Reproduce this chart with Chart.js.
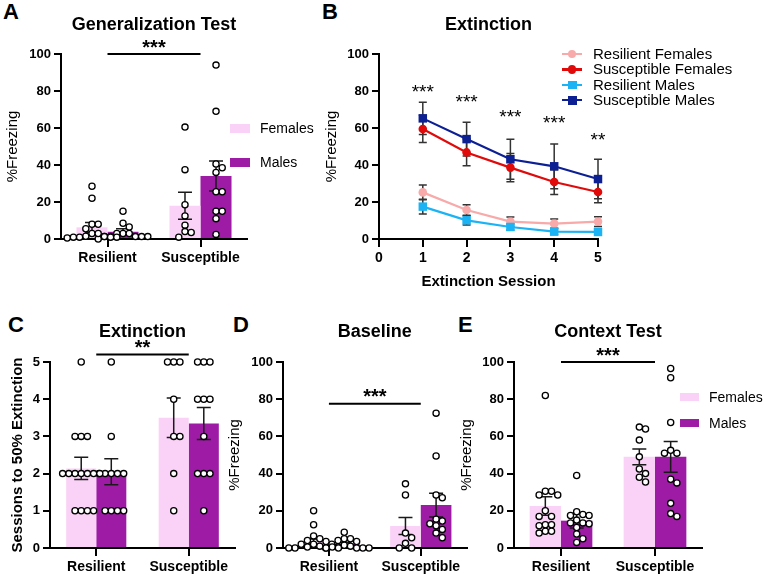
<!DOCTYPE html>
<html>
<head>
<meta charset="utf-8">
<script src="https://cdn.jsdelivr.net/npm/chart.js@4.4.0/dist/chart.umd.min.js"></script>
<style>
  body { margin: 0; background: #fff; }
  #fig { position: relative; width: 764px; height: 575px; overflow: hidden; font-family: 'Liberation Sans', Arial, sans-serif; color: #000; }
  canvas { position: absolute; }
  .letter { position: absolute; font-weight: bold; font-size: 22px; line-height: 22px; }
  .lg { position: absolute; height: 16px; line-height: 16px; white-space: nowrap; }
  .lg span { position: absolute; }
</style>
</head>
<body>
<div id="fig">
  <div class="letter" style="left:3px;top:1px">A</div>
  <div class="letter" style="left:322px;top:1px">B</div>
  <div class="letter" style="left:8px;top:314px">C</div>
  <div class="letter" style="left:233px;top:314px">D</div>
  <div class="letter" style="left:458px;top:314px">E</div>
  <canvas id="chartA" width="320" height="290" style="left:0;top:0"></canvas>
  <canvas id="chartB" width="454" height="300" style="left:310px;top:0"></canvas>
  <canvas id="chartC" width="245" height="275" style="left:0;top:300px"></canvas>
  <canvas id="chartD" width="250" height="275" style="left:222px;top:300px"></canvas>
  <canvas id="chartE" width="314" height="275" style="left:450px;top:300px"></canvas>
</div>
<script>
const groups = ['Resilient', 'Susceptible'];
const sexes = ['Females', 'Males'];

// A: generalization test (% freezing)
const genMeanF = [6.3, 18.0];
const genMeanM = [3.9, 34.0];
const genSemF = [2.6, 7.3];
const genSemM = [1.6, 8.1];
const genResF = [28.5, 22, 8, 8, 5.5, 3, 3, 1.5, 1.3, 1, 1, 1, 1, 0.5];
const genResM = [15, 8.5, 6.5, 3, 3, 3, 1.3, 1.3, 1.3, 1.3, 1.3, 0];
const genSusF = [60.5, 37.5, 18.5, 12.5, 7.5, 4, 3.5, 1];
const genSusM = [94, 69, 40.5, 38.5, 36, 25.5, 25.5, 15, 15, 11, 2.5];

// B: extinction sessions (% freezing)
const sessions = [1, 2, 3, 4, 5];
const extResF = [25.2, 15.7, 9.4, 8.3, 9.4];
const extSusF = [59.5, 46.8, 38.6, 30.8, 25.4];
const extResM = [17.5, 10.1, 6.5, 4.0, 3.8];
const extSusM = [65.2, 54.0, 43.1, 39.3, 32.4];
const extSemResF = [4.0, 2.8, 2.5, 2.5, 2.6];
const extSemSusF = [7.4, 7.2, 7.6, 6.7, 5.8];
const extSemResM = [4.0, 2.5, 1.6, 1.5, 1.5];
const extSemSusM = [8.7, 9.1, 10.8, 12.1, 10.7];
const extStars = ['***', '***', '***', '***', '**'];
const extStarLevel = [76, 71, 62.5, 59.5, 50.5];
const extNames = ['Resilient Females', 'Susceptible Females', 'Resilient Males', 'Susceptible Males'];

// C: sessions to 50% extinction
const sessMeanF = [2.14, 3.5];
const sessMeanM = [2.05, 3.35];
const sessSemF = [0.3, 0.53];
const sessSemM = [0.35, 0.43];
const sessResF = [5, 3, 3, 3, 2, 2, 2, 2, 2, 2, 2, 1, 1, 1, 1];
const sessResM = [5, 3, 2, 2, 2, 2, 2, 1, 1, 1, 1];
const sessSusF = [5, 5, 5, 4, 3, 3, 2, 1];
const sessSusM = [5, 5, 5, 4, 4, 4, 3, 2, 2, 2, 1];

// D: baseline (% freezing)
const baseMeanF = [3.4, 11.8];
const baseMeanM = [2.1, 23.1];
const baseSemF = [1.4, 4.6];
const baseSemM = [0.9, 6.4];
const baseResF = [20, 12.5, 6.5, 5, 4, 3.5, 2, 2, 1, 0.5, 0.5, 0, 0, 0, 0];
const baseResM = [8.5, 5, 5, 4, 3.5, 2, 1.5, 1, 0.5, 0, 0, 0, 0];
const baseSusF = [34.5, 28.5, 8, 5.5, 2.5, 0, 0];
const baseSusM = [72.5, 49.5, 28.5, 27, 15.5, 14.5, 13, 12, 10, 8, 5.5];

// E: context test (% freezing)
const ctxMeanF = [22.6, 49.0];
const ctxMeanM = [14.7, 49.0];
const ctxSemF = [5.0, 4.2];
const ctxSemM = [3.9, 8.3];
const ctxResF = [82, 30.5, 30.5, 28.5, 28.5, 20, 17, 17, 12.5, 12.5, 12, 9, 9, 8];
const ctxResM = [39, 19.5, 18, 17.5, 17.5, 15, 13.5, 13.5, 13, 11, 7.5, 5, 3];
const ctxSusF = [65, 64, 58, 49, 42.5, 40, 38, 35.5];
const ctxSusM = [96.5, 91.5, 67.5, 52.5, 51, 51, 37, 35, 24, 18.5, 17];

const FONT = "'Liberation Sans', Arial, sans-serif";
const femaleColor = '#fbd2f7';
const maleColor = '#9e1ba6';
const extColors = ['#f8a9a9', '#e10a0a', '#1cb3f4', '#0c1f93'];

Chart.defaults.font.family = FONT;
Chart.defaults.color = '#000';
Chart.defaults.animation = false;
Chart.defaults.events = [];
Chart.defaults.plugins.legend.display = false;
Chart.defaults.plugins.tooltip.enabled = false;

// spread the dots sideways so they don't pile up (like a beeswarm)
const swarm = {
  id: 'swarm',
  afterDatasetsUpdate(chart) {
    const d = 6.2;
    chart.data.datasets.forEach((ds, i) => {
      if (ds.swarmOf === undefined) return;
      const bars = chart.getDatasetMeta(ds.swarmOf).data;
      const meta = chart.getDatasetMeta(i);
      const byGroup = {};
      meta.data.forEach((pt, k) => {
        const g = chart.data.labels.indexOf(ds.data[k].x);
        (byGroup[g] = byGroup[g] || []).push(pt);
      });
      Object.keys(byGroup).forEach(g => {
        const cx = bars[g].x;
        const placed = [];
        byGroup[g].slice().sort((a, b) => a.y - b.y).forEach(pt => {
          for (let n = 0; n < 60; n++) {
            const off = n === 0 ? 0 : (n % 2 ? 1 : -1) * Math.ceil(n / 2) * d;
            if (placed.every(q => Math.hypot(q.x - (cx + off), q.y - pt.y) >= d - 0.01)) {
              pt.x = cx + off;
              placed.push(pt);
              break;
            }
          }
        });
      });
    });
  }
};

function drawErrors(chart, meta, ds, cap, color) {
  const y = chart.scales.y, ctx = chart.ctx;
  ctx.save();
  ctx.strokeStyle = color;
  ctx.lineWidth = 1.5;
  meta.data.forEach((el, j) => {
    const v = typeof ds.data[j] === 'object' ? ds.data[j].y : ds.data[j];
    const hi = y.getPixelForValue(v + ds.sem[j]);
    const lo = y.getPixelForValue(v - ds.sem[j]);
    ctx.beginPath();
    ctx.moveTo(el.x, hi); ctx.lineTo(el.x, lo);
    ctx.moveTo(el.x - cap, hi); ctx.lineTo(el.x + cap, hi);
    ctx.moveTo(el.x - cap, lo); ctx.lineTo(el.x + cap, lo);
    ctx.stroke();
  });
  ctx.restore();
}

const errorBars = {
  id: 'errorBars',
  beforeDatasetsDraw(chart) {
    chart.data.datasets.forEach((ds, i) => {
      const meta = chart.getDatasetMeta(i);
      if (ds.sem && meta.type === 'line') drawErrors(chart, meta, ds, 4, '#333');
    });
  },
  afterDatasetDraw(chart, args) {
    const ds = chart.data.datasets[args.index];
    if (ds.sem && args.meta.type === 'bar') drawErrors(chart, args.meta, ds, 7, '#1a1a1a');
  }
};

const sigBar = {
  id: 'sigBar',
  afterDatasetsDraw(chart, args, opts) {
    if (!opts.text) return;
    const x = chart.scales.x, y = chart.scales.y, ctx = chart.ctx;
    const x0 = x.getPixelForValue(0), x1 = x.getPixelForValue(1);
    const yy = y.getPixelForValue(opts.value);
    ctx.save();
    ctx.strokeStyle = '#000';
    ctx.lineWidth = 2;
    ctx.beginPath(); ctx.moveTo(x0, yy); ctx.lineTo(x1, yy); ctx.stroke();
    ctx.font = 'bold 20px ' + FONT;
    ctx.fillStyle = '#000';
    ctx.textAlign = 'center';
    ctx.textBaseline = 'alphabetic';
    ctx.fillText(opts.text, (x0 + x1) / 2, yy - 0.5);
    ctx.restore();
  }
};

const sessionStars = {
  id: 'sessionStars',
  afterDatasetsDraw(chart) {
    const x = chart.scales.x, y = chart.scales.y, ctx = chart.ctx;
    ctx.save();
    ctx.font = '19px ' + FONT;
    ctx.fillStyle = '#000';
    ctx.textAlign = 'center';
    extStars.forEach((t, i) => {
      ctx.fillText(t, x.getPixelForValue(sessions[i]), y.getPixelForValue(extStarLevel[i]));
    });
    ctx.restore();
  }
};

function yAxis(max, step, width, text, bold, pad) {
  return {
    min: 0, max: max,
    ticks: { stepSize: step, padding: 3, font: { size: 13, weight: 'bold' } },
    grid: { drawOnChartArea: false, color: '#000', lineWidth: 2, tickLength: 7 },
    border: { color: '#000', width: 2 },
    title: { display: true, text: text, font: { size: 15, weight: bold ? 'bold' : 'normal' }, padding: { top: pad, bottom: 0 } },
    afterFit: s => { s.width = width; }
  };
}

function xCat(height) {
  return {
    type: 'category', offset: true,
    ticks: { padding: 3, font: { size: 14, weight: 'bold' } },
    grid: { drawOnChartArea: false, offset: false, color: '#000', lineWidth: 2, tickLength: 8 },
    border: { color: '#000', width: 2 },
    afterFit: s => { s.height = height; }
  };
}

function dotPoints(res, sus) {
  return res.map(v => ({ x: groups[0], y: v })).concat(sus.map(v => ({ x: groups[1], y: v })));
}

function dotSet(data, barIndex) {
  return {
    type: 'scatter', data: data, swarmOf: barIndex, order: 0, clip: false,
    pointRadius: 3.1, pointBorderWidth: 1.3,
    pointBackgroundColor: '#fff', pointBorderColor: '#000'
  };
}

function groupChart(id, o) {
  return new Chart(document.getElementById(id), {
    type: 'bar',
    data: {
      labels: groups,
      datasets: [
        { label: sexes[0], data: o.meanF, sem: o.semF, backgroundColor: femaleColor, order: 2,
          categoryPercentage: o.catPct, barPercentage: 1 },
        { label: sexes[1], data: o.meanM, sem: o.semM, backgroundColor: maleColor, order: 2,
          categoryPercentage: o.catPct, barPercentage: 1 },
        dotSet(dotPoints(o.resF, o.susF), 0),
        dotSet(dotPoints(o.resM, o.susM), 1)
      ]
    },
    options: {
      responsive: false,
      layout: { padding: { top: 4, right: o.padRight, left: 0, bottom: 0 } },
      scales: {
        x: xCat(o.xHeight),
        y: yAxis(o.yMax, o.yStep, o.yWidth, o.yTitle, o.yBold, o.yPad)
      },
      plugins: {
        title: { display: true, fullSize: false, text: o.title, font: { size: 18, weight: 'bold' },
          padding: { top: o.titleTop, bottom: o.titleBottom } },
        sigBar: { text: o.sig, value: o.sigValue }
      }
    },
    plugins: [swarm, errorBars, sigBar]
  });
}

groupChart('chartA', {
  meanF: genMeanF, meanM: genMeanM, semF: genSemF, semM: genSemM,
  resF: genResF, resM: genResM, susF: genSusF, susM: genSusM,
  catPct: 0.667, padRight: 73, xHeight: 51, yMax: 100, yStep: 20, yWidth: 61,
  yTitle: '%Freezing', yBold: false, yPad: 4, title: 'Generalization Test',
  titleTop: 10, titleBottom: 18.4, sig: '***', sigValue: 100
});

groupChart('chartC', {
  meanF: sessMeanF, meanM: sessMeanM, semF: sessSemF, semM: sessSemM,
  resF: sessResF, resM: sessResM, susF: sessSusF, susM: sessSusM,
  catPct: 0.65, padRight: 10, xHeight: 27, yMax: 5, yStep: 1, yWidth: 50,
  yTitle: 'Sessions to 50% Extinction', yBold: true, yPad: 9, title: 'Extinction',
  titleTop: 17.2, titleBottom: 19.2, sig: '**', sigValue: 5.2
});

groupChart('chartD', {
  meanF: baseMeanF, meanM: baseMeanM, semF: baseSemF, semM: baseSemM,
  resF: baseResF, resM: baseResM, susF: baseSusF, susM: baseSusM,
  catPct: 0.667, padRight: 4, xHeight: 27, yMax: 100, yStep: 20, yWidth: 61,
  yTitle: '%Freezing', yBold: false, yPad: 4, title: 'Baseline',
  titleTop: 17.2, titleBottom: 19.2, sig: '***', sigValue: 77.5
});

groupChart('chartE', {
  meanF: ctxMeanF, meanM: ctxMeanM, semF: ctxSemF, semM: ctxSemM,
  resF: ctxResF, resM: ctxResM, susF: ctxSusF, susM: ctxSusM,
  catPct: 0.667, padRight: 62, xHeight: 27, yMax: 100, yStep: 20, yWidth: 64,
  yTitle: '%Freezing', yBold: false, yPad: 8, title: 'Context Test',
  titleTop: 17.2, titleBottom: 19.2, sig: '***', sigValue: 100
});

// B: extinction curves
const extSeries = [extResF, extSusF, extResM, extSusM];
const extSems = [extSemResF, extSemSusF, extSemResM, extSemSusM];
const extIsMale = [false, false, true, true];

new Chart(document.getElementById('chartB'), {
  type: 'line',
  data: {
    datasets: extSeries.map((vals, i) => ({
      label: extNames[i],
      data: sessions.map((s, j) => ({ x: s, y: vals[j] })),
      sem: extSems[i],
      borderColor: extColors[i],
      backgroundColor: extColors[i],
      borderWidth: 2.2,
      pointStyle: extIsMale[i] ? 'rect' : 'circle',
      pointRadius: extIsMale[i] ? 6 : 4.3,
      pointBorderWidth: 0,
      clip: false,
      order: 4 - i
    }))
  },
  options: {
    responsive: false,
    layout: { padding: { top: 4, right: 166, left: 0, bottom: 0 } },
    scales: {
      x: {
        type: 'linear', min: 0, max: 5,
        ticks: { stepSize: 1, padding: 3, font: { size: 14, weight: 'bold' } },
        grid: { drawOnChartArea: false, color: '#000', lineWidth: 2, tickLength: 8 },
        border: { color: '#000', width: 2 },
        title: { display: true, text: 'Extinction Session', font: { size: 15, weight: 'bold' }, padding: { top: 0, bottom: 9 } },
        afterFit: s => { s.height = 61; }
      },
      y: yAxis(100, 20, 69, '%Freezing', false, 13)
    },
    plugins: {
      title: { display: true, fullSize: false, text: 'Extinction', font: { size: 18, weight: 'bold' },
        padding: { top: 10, bottom: 18.4 } }
    }
  },
  plugins: [errorBars, sessionStars]
});

// legends
const fig = document.getElementById('fig');
function barLegend(left, tops, boxW, boxH) {
  sexes.forEach((name, i) => {
    const row = document.createElement('div');
    row.className = 'lg';
    row.style.left = left + 'px';
    row.style.top = (tops[i] - 8) + 'px';
    row.style.fontSize = '14px';
    row.innerHTML = '<span style="left:0;top:' + (8 - boxH / 2) + 'px;width:' + boxW + 'px;height:' + boxH +
      'px;background:' + (i ? maleColor : femaleColor) + '"></span><span style="left:' + (boxW + 10) + 'px;top:0">' + name + '</span>';
    fig.appendChild(row);
  });
}
barLegend(230, [128, 162], 20, 9);
barLegend(680, [397, 423], 19, 8);

extNames.forEach((name, i) => {
  const row = document.createElement('div');
  row.className = 'lg';
  row.style.left = '562px';
  row.style.top = (54 + i * 15.4 - 8) + 'px';
  row.style.fontSize = '15px';
  const c = extColors[i];
  const marker = extIsMale[i]
    ? '<span style="left:6px;top:4px;width:8.5px;height:8.5px;background:' + c + '"></span>'
    : '<span style="left:5.7px;top:3.7px;width:8.6px;height:8.6px;border-radius:50%;background:' + c + '"></span>';
  row.innerHTML = '<span style="left:0;top:7px;width:20px;height:2.2px;background:' + c + '"></span>' + marker +
    '<span style="left:31px;top:0">' + name + '</span>';
  fig.appendChild(row);
});
</script>
</body>
</html>
